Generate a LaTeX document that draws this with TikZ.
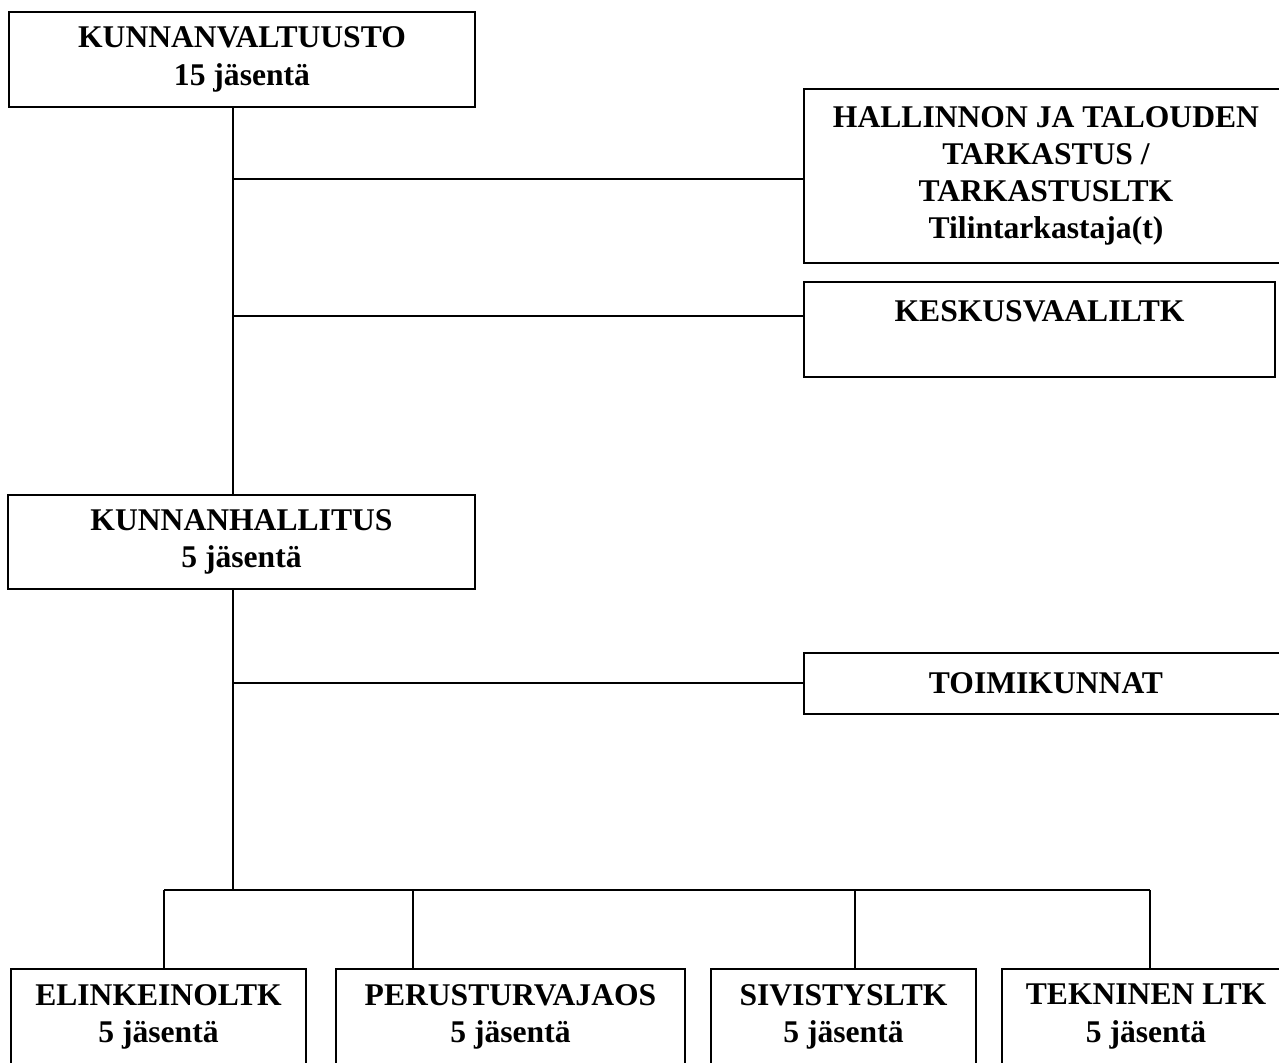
\documentclass[tikz,border=0pt]{standalone}
\usepackage{fontspec}
\setmainfont{Liberation Serif}
\begin{document}
\begin{tikzpicture}[x=0.5pt,y=-0.5pt,
    unit/.style={draw, line width=1pt, inner sep=0pt, align=center,
      font=\fontsize{15.8}{18.6}\selectfont\bfseries},
    link/.style={line width=1pt}]
  % Page frame, boxes on the right run past it
  \clip (0,0) rectangle (1279,1063);

  % Council and the boards under it
  \node[unit, minimum width=233pt, minimum height=47.5pt] (kv) at (242,59.5)
    {KUNNANVALTUUSTO\\15 jäsentä};
  \node[unit, minimum width=242pt, minimum height=87pt] (ht) at (1046,176)
    {HALLINNON JA TALOUDEN\\TARKASTUS /\\TARKASTUSLTK\\Tilintarkastaja(t)};
  \node[unit, minimum width=235.5pt, minimum height=47.5pt] (kvl) at (1039.5,329.5)
    {KESKUSVAALILTK\\\mbox{}};

  % Executive board and its committees
  \node[unit, minimum width=233.5pt, minimum height=47pt] (kh) at (241.5,542)
    {KUNNANHALLITUS\\5 jäsentä};
  \node[unit, minimum width=242pt, minimum height=30.5pt] (tk) at (1046,683.5)
    {TOIMIKUNNAT};

  % Boards in the bottom row
  \node[unit, minimum width=147.5pt, minimum height=47.5pt] (el) at (158.5,1016.5)
    {ELINKEINOLTK\\5 jäsentä};
  \node[unit, minimum width=174.5pt, minimum height=47.5pt] (pe) at (510.5,1016.5)
    {PERUSTURVAJAOS\\5 jäsentä};
  \node[unit, minimum width=132.5pt, minimum height=47.5pt] (si) at (843.5,1016.5)
    {SIVISTYSLTK\\5 jäsentä};
  \node[unit, minimum width=144pt, minimum height=47.5pt] (te) at (1146,1016.5)
    {TEKNINEN LTK\\5 jäsentä};

  % Trunk line and the side branches
  \coordinate (fork) at (233,890);
  \coordinate (tap1) at (233,179);
  \coordinate (tap2) at (233,316);
  \coordinate (tap3) at (233,683);
  \draw[link] (kv.south -| fork) -- (kh.north -| fork);
  \draw[link] (kh.south -| fork) -- (fork);
  \draw[link] (tap1) -- (tap1 -| ht.west);
  \draw[link] (tap2) -- (tap2 -| kvl.west);
  \draw[link] (tap3) -- (tap3 -| tk.west);

  % Rail over the bottom row
  \coordinate (railL) at (164,890);
  \coordinate (railR) at (1150,890);
  \draw[link] (railL) -- (railR);
  \foreach \x/\b [count=\i] in {164/el, 413/pe, 855/si, 1150/te} {
    \coordinate (drop\i) at (\x,890);
    \draw[link] (drop\i) -- (drop\i |- \b.north);
  }
\end{tikzpicture}
\end{document}
